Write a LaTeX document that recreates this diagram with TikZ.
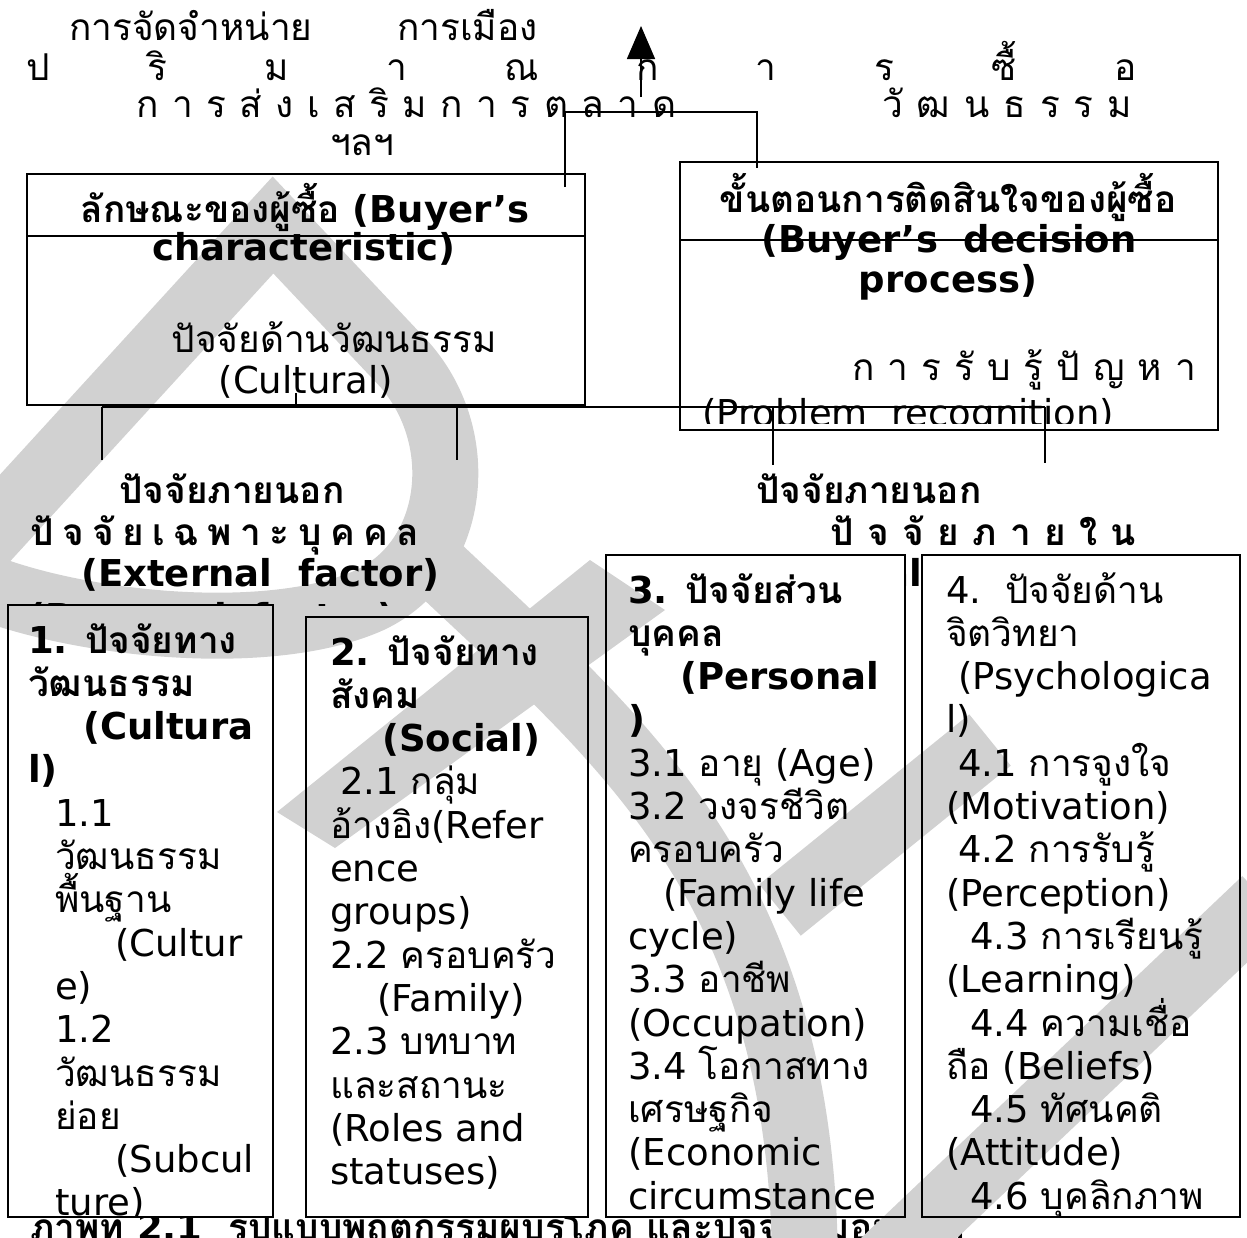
\documentclass[tikz,border=0pt]{standalone}
\usepackage{fontspec}
\setmainfont{DejaVu Sans}
\newfontfamily\thaifont[Script=Thai]{Loma}
\newfontfamily\latinfont{DejaVu Sans}
% Thai letters switch to Loma, everything else stays DejaVu Sans
\XeTeXinterchartokenstate=1
\newXeTeXintercharclass\thaiclass
\count255="0E01
\loop
  \XeTeXcharclass\count255=\thaiclass
  \ifnum\count255<"0E5B \advance\count255 by 1 \repeat
\XeTeXinterchartoks 0 \thaiclass = {\thaifont}
\XeTeXinterchartoks 4095 \thaiclass = {\thaifont}
\XeTeXinterchartoks \thaiclass 0 = {\latinfont}
\XeTeXinterchartoks \thaiclass 4095 = {\latinfont}
\usepackage{tikz}
\usetikzlibrary{positioning,arrows.meta}
\tikzset{
    boxfill/.style={
        rectangle,
        fill=white,
        inner sep=0pt,
        outer sep=0pt,
        anchor=north west,
    },
    boxline/.style={
        draw=black,
        line width=2pt,
    },
    link/.style={
        draw=black,
        line width=1.6pt,
    },
    wmark/.style={
        draw=black!18,
        line width=66pt,
        line join=miter,
    },
    txt/.style={
        inner sep=0pt,
        anchor=base west,
        font=\fontsize{37}{43}\selectfont,
    },
    txtc/.style={
        txt,
        anchor=base,
    },
    heavy/.style={
        font=\bfseries\fontsize{37}{43}\selectfont,
    },
}

\begin{document}
\begin{tikzpicture}[x=1pt,y=-1pt]
    \useasboundingbox (0,0) rectangle (1247,1237);
    \clip (0,0) rectangle (1247,1237);
    % texts that end up under the boxes
    \node[txt,heavy] (caption) at (30,1240) {ภาพที่ 2.1\ \ รูปแบบพฤติกรรมผู้บริโภค และปัจจัยที่มีอิทธิพล};
    \node[txt,heavy] (intlost) at (740,586) {(Internal\ \ factor)};
    % boxes
    \node[boxfill,minimum width=558pt,minimum height=231pt] (charbox) at (27,174) {};
    \node[boxfill,minimum width=538pt,minimum height=268pt] (procbox) at (680,162) {};
    \node[boxfill,minimum width=265pt,minimum height=612pt] (cultbox) at (8,605) {};
    \node[boxfill,minimum width=282pt,minimum height=600pt] (socbox) at (306,617) {};
    \node[boxfill,minimum width=299pt,minimum height=662pt] (persbox) at (606,555) {};
    \node[boxfill,minimum width=318pt,minimum height=662pt] (psybox) at (922,555) {};
    % watermark
    \draw[wmark] (-70,600) -- (273,225) -- (405,365)
        .. controls (470,440) and (455,560) .. (370,600)
        .. controls (270,645) and (80,625) .. (-20,585);
    \draw[wmark] (430,560) .. controls (620,740) and (800,880) .. (805,1260);
    \draw[wmark] (780,910) -- (990,740);
    \draw[wmark] (870,1275) -- (1265,900);
    \fill[black!18] (277,812) -- (590,560) -- (665,610) -- (335,848) -- cycle;
    \begin{scope}
        \clip (0,0) rectangle (1247,605);
        \node[txt,heavy] (perslost) at (28,630) {(Personal\ \ factor)};
    \end{scope}
    % frames
    \foreach \b in {charbox,procbox,cultbox,socbox,persbox,psybox}
        \draw[boxline] (\b.south west) rectangle (\b.north east);
    \coordinate (chardiv) at (27,236);
    \coordinate (procdiv) at (680,240);
    \draw[link] (chardiv) -- (chardiv -| charbox.east);
    \draw[link] (procdiv) -- (procdiv -| procbox.east);
    % top labels
    \node[txt] (place) at (69,40) {การจัดจำหน่าย};
    \node[txt] (politic) at (397,40) {การเมือง};
    \node[txt] (amount) at (26,80) {\makebox[1110pt][s]{ป\hfill ริ\hfill ม\hfill า\hfill ณ\hfill ก\hfill า\hfill ร\hfill ซื้\hfill อ}};
    \node[txt] (promo) at (136,117) {\makebox[540pt][s]{ก\hfill า\hfill ร\hfill ส่\hfill ง\hfill เ\hfill ส\hfill ริ\hfill ม\hfill ก\hfill า\hfill ร\hfill ต\hfill ล\hfill า\hfill ด}};
    \node[txt] (culture) at (882,117) {\makebox[250pt][s]{วั\hfill ฒ\hfill น\hfill ธ\hfill ร\hfill ร\hfill ม}};
    \node[txt] (etc) at (330,155) {ฯลฯ};
    % connectors
    \coordinate (arrowbase) at (641,97);
    \coordinate (arrowtip) at (641,26);
    \draw[link,-{Triangle[length=33pt,width=28pt]}] (arrowbase) -- (arrowtip);
    \coordinate (charin) at (565,187);
    \coordinate (busL) at (565,112);
    \coordinate (busR) at (757,112);
    \coordinate (procin) at (757,168);
    \draw[link] (charin) -- (busL) -- (busR) -- (procin);
    \coordinate (railL) at (102,407);
    \coordinate (railR) at (1045,407);
    \coordinate (stemtop) at (296,393);
    \draw[link] (railL) -- (railR);
    \draw[link] (stemtop) -- (stemtop |- railL);
    \coordinate (dropA) at (102,460);
    \coordinate (dropB) at (457,460);
    \coordinate (dropC) at (773,465);
    \coordinate (dropD) at (1045,463);
    \foreach \d in {dropA,dropB,dropC,dropD}
        \draw[link] (\d |- railL) -- (\d);
    % buyer boxes
    \node[txtc,heavy] (chartitle) at (305,222) {ลักษณะของผู้ซื้อ (Buyer’s};
    \node[txtc,heavy] (chartitleb) at (304,260) {characteristic)};
    \node[txtc] (charcult) at (334,352) {ปัจจัยด้านวัฒนธรรม};
    \node[txtc] (charcultb) at (306,393) {(Cultural)};
    \begin{scope}
        \clip (680,162) rectangle (1218,423);
        \node[txtc,heavy] (proctitle) at (948,212) {ขั้นตอนการติดสินใจของผู้ซื้อ};
        \node[txtc,heavy] (proctitleb) at (949,252) {(Buyer’s\ \ decision};
        \node[txtc,heavy] (proctitlec) at (948,292) {process)};
        \node[txt] (probth) at (852,380) {\makebox[344pt][s]{ก\hfill า\hfill ร\hfill รั\hfill บ\hfill รู้\hfill ปั\hfill ญ\hfill ห\hfill า}};
        \node[txt] (proben) at (702,426) {(Problem\ \ recognition)};
    \end{scope}
    % factor headings
    \node[txt,heavy] (extA) at (119,503) {ปัจจัยภายนอก};
    \node[txt,heavy] (indiv) at (30,545) {\makebox[389pt][s]{ปั\hfill จ\hfill จั\hfill ย\hfill เ\hfill ฉ\hfill พ\hfill า\hfill ะ\hfill บุ\hfill ค\hfill ค\hfill ล}};
    \node[txt,heavy] (exten) at (81,586) {(External\ \ factor)};
    \node[txt,heavy] (extB) at (756,503) {ปัจจัยภายนอก};
    \node[txt,heavy] (inner) at (830,545) {\makebox[306pt][s]{ปั\hfill จ\hfill จั\hfill ย\hfill ภ\hfill า\hfill ย\hfill ใ\hfill น}};
    % factor boxes
    \begin{scope}
        \clip (cultbox.south west) rectangle (cultbox.north east);
        \foreach \dx/\t [count=\i from 0] in {
            0/{\bfseries 1. ปัจจัยทาง}, 0/{\bfseries วัฒนธรรม}, 55/{\bfseries (Cultura},
            0/{\bfseries l)}, 27/{1.1}, 27/{วัฒนธรรม}, 27/{พื้นฐาน}, 87/{(Cultur},
            27/{e)}, 27/{1.2}, 27/{วัฒนธรรม}, 27/{ย่อย}, 87/{(Subcul}, 27/{ture)}}
            \node[txt] at (28+\dx,653+43.3*\i) {\t};
    \end{scope}
    \begin{scope}
        \clip (socbox.south west) rectangle (socbox.north east);
        \foreach \dx/\t [count=\i from 0] in {
            0/{\bfseries 2. ปัจจัยทาง}, 0/{\bfseries สังคม}, 52/{\bfseries (Social)},
            10/{2.1 กลุ่ม}, 0/{อ้างอิง(Refer}, 0/{ence}, 0/{groups)},
            0/{2.2 ครอบครัว}, 47/{(Family)}, 0/{2.3 บทบาท}, 0/{และสถานะ},
            0/{(Roles and}, 0/{statuses)}}
            \node[txt] at (330+\dx,665+43.3*\i) {\t};
    \end{scope}
    \begin{scope}
        \clip (persbox.south west) rectangle (persbox.north east);
        \foreach \dx/\t [count=\i from 0] in {
            0/{\bfseries 3. ปัจจัยส่วน}, 0/{\bfseries บุคคล}, 52/{\bfseries (Personal},
            0/{\bfseries )}, 0/{3.1 อายุ (Age)}, 0/{3.2 วงจรชีวิต}, 0/{ครอบครัว},
            35/{(Family life}, 0/{cycle)}, 0/{3.3 อาชีพ}, 0/{(Occupation)},
            0/{3.4 โอกาสทาง}, 0/{เศรษฐกิจ}, 0/{(Economic}, 0/{circumstance}}
            \node[txt] at (628+\dx,603+43.3*\i) {\t};
    \end{scope}
    \begin{scope}
        \clip (psybox.south west) rectangle (psybox.north east);
        \foreach \dx/\t [count=\i from 0] in {
            0/{4.\ \ ปัจจัยด้าน}, 0/{จิตวิทยา}, 12/{(Psychologica}, 0/{l)},
            12/{4.1 การจูงใจ}, 0/{(Motivation)}, 12/{4.2 การรับรู้}, 0/{(Perception)},
            24/{4.3 การเรียนรู้}, 0/{(Learning)}, 24/{4.4 ความเชื่อ}, 0/{ถือ (Beliefs)},
            24/{4.5 ทัศนคติ}, 0/{(Attitude)}, 24/{4.6 บุคลิกภาพ}}
            \node[txt] at (946+\dx,603+43.3*\i) {\t};
    \end{scope}
\end{tikzpicture}
\end{document}
